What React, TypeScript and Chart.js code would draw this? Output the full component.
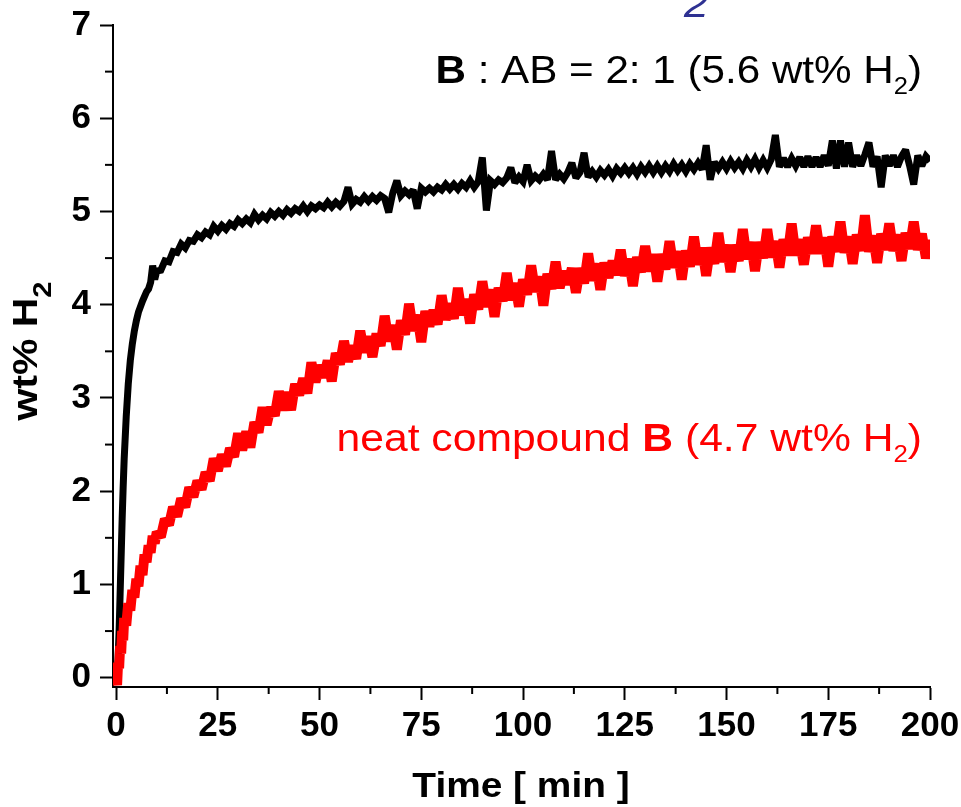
import React, { useEffect, useRef } from "react";
import { Chart, registerables } from "chart.js";

Chart.register(...registerables);

// time in minutes
const timeMin = [
  0, 0.25, 0.5, 0.75, 1, 1.25, 1.5, 1.75, 2, 2.5, 3, 3.5, 4, 4.5, 5, 5.5, 6, 6.5, 7, 7.5, 8, 8.5, 9, 9.5,
  10, 11, 12, 13, 14, 15, 16, 17, 18, 19,
  20, 21, 22, 23, 24, 25, 26, 27, 28, 29,
  30, 31, 32, 33, 34, 35, 36, 37, 38, 39,
  40, 41, 42, 43, 44, 45, 46, 47, 48, 49,
  50, 51, 52, 53, 54, 55, 56, 57, 58, 59,
  60, 61, 62, 63, 64, 65, 66, 67, 68, 69,
  70, 71, 72, 73, 74, 75, 76, 77, 78, 79,
  80, 81, 82, 83, 84, 85, 86, 87, 88, 89,
  90, 91, 92, 93, 94, 95, 96, 97, 98, 99,
  100, 101, 102, 103, 104, 105, 106, 107, 108, 109,
  110, 111, 112, 113, 114, 115, 116, 117, 118, 119,
  120, 121, 122, 123, 124, 125, 126, 127, 128, 129,
  130, 131, 132, 133, 134, 135, 136, 137, 138, 139,
  140, 141, 142, 143, 144, 145, 146, 147, 148, 149,
  150, 151, 152, 153, 154, 155, 156, 157, 158, 159,
  160, 161, 162, 163, 164, 165, 166, 167, 168, 169,
  170, 171, 172, 173, 174, 175, 176, 177, 178, 179,
  180, 181, 182, 183, 184, 185, 186, 187, 188, 189,
  190, 191, 192, 193, 194, 195, 196, 197, 198, 199, 200,
];

// B : AB = 2 : 1  (wt% H2)
const mixB_AB = [
  0, 0.05, 0.2, 0.5, 0.9, 1.3, 1.7, 2.05, 2.35, 2.8, 3.15, 3.4, 3.58, 3.72, 3.83, 3.92, 3.98, 4.04, 4.09, 4.14, 4.17, 4.24, 4.42, 4.27,
  4.36, 4.37, 4.47, 4.46, 4.57, 4.56, 4.65, 4.61, 4.69, 4.68,
  4.75, 4.72, 4.78, 4.75, 4.84, 4.79, 4.85, 4.81, 4.87, 4.84,
  4.91, 4.87, 4.92, 4.88, 4.97, 4.91, 4.96, 4.92, 4.99, 4.95,
  5.0, 4.96, 5.02, 4.98, 5.03, 5.0, 5.06, 5.0, 5.06, 5.03,
  5.07, 5.04, 5.1, 5.05, 5.1, 5.06, 5.11, 5.26, 5.08, 5.13,
  5.1, 5.16, 5.11, 5.16, 5.12, 5.17, 5.14, 4.99, 5.2, 5.33,
  5.17, 5.22, 5.18, 5.23, 5.03, 5.25, 5.21, 5.25, 5.21, 5.26,
  5.23, 5.29, 5.24, 5.29, 5.24, 5.3, 5.26, 5.33, 5.26, 5.32,
  5.58, 5.01, 5.33, 5.29, 5.34, 5.31, 5.36, 5.47, 5.31, 5.37,
  5.32, 5.5, 5.33, 5.38, 5.34, 5.4, 5.34, 5.65, 5.34, 5.4,
  5.35, 5.42, 5.52, 5.36, 5.42, 5.63, 5.37, 5.43, 5.37, 5.44,
  5.39, 5.45, 5.38, 5.46, 5.41, 5.47, 5.41, 5.47, 5.4, 5.48,
  5.42, 5.49, 5.42, 5.49, 5.42, 5.49, 5.43, 5.51, 5.44, 5.5,
  5.43, 5.51, 5.45, 5.52, 5.45, 5.71, 5.34, 5.53, 5.46, 5.53,
  5.46, 5.54, 5.47, 5.53, 5.46, 5.55, 5.48, 5.56, 5.47, 5.55,
  5.47, 5.56, 5.82, 5.48, 5.57, 5.48, 5.57, 5.49, 5.58, 5.48,
  5.59, 5.48, 5.58, 5.48, 5.6, 5.49, 5.76, 5.46, 5.76, 5.48,
  5.74, 5.48, 5.6, 5.49, 5.61, 5.74, 5.48, 5.59, 5.26, 5.6,
  5.49, 5.6, 5.48, 5.59, 5.66, 5.49, 5.29, 5.6, 5.49, 5.59, 5.54,
];

// neat compound B (wt% H2)
const neatB = [
  0, -0.08, 0.16, 0.1, 0.34, 0.26, 0.5, 0.4, 0.64, 0.56, 0.8, 0.72, 0.94, 0.86, 1.06, 0.98, 1.2, 1.1, 1.32, 1.24, 1.42, 1.34, 1.52, 1.44,
  1.56, 1.51, 1.7, 1.64, 1.83, 1.73, 1.92, 1.83, 2.04, 1.94,
  2.11, 2.02, 2.2, 2.11, 2.35, 2.22, 2.39, 2.27, 2.46, 2.37,
  2.62, 2.44, 2.64, 2.47, 2.74, 2.63, 2.9, 2.71, 2.9, 2.81,
  3.07, 2.87, 3.06, 2.87, 3.15, 3.03, 3.21, 3.05, 3.38, 3.17,
  3.35, 3.22, 3.4, 3.18, 3.48, 3.36, 3.61, 3.39, 3.56, 3.42,
  3.72, 3.49, 3.66, 3.44, 3.69, 3.56, 3.88, 3.61, 3.78, 3.52,
  3.83, 3.68, 4.01, 3.72, 3.89, 3.6, 3.93, 3.77, 3.94, 3.79,
  4.1, 3.84, 4.01, 3.85, 4.18, 3.89, 4.06, 3.8, 4.11, 3.95,
  4.25, 3.98, 4.16, 3.87, 4.18, 4.04, 4.34, 4.05, 4.23, 3.98,
  4.27, 4.11, 4.42, 4.14, 4.3, 3.99, 4.33, 4.17, 4.46, 4.18,
  4.36, 4.22, 4.39, 4.13, 4.39, 4.23, 4.55, 4.26, 4.44, 4.16,
  4.45, 4.29, 4.47, 4.32, 4.59, 4.31, 4.49, 4.2, 4.51, 4.35,
  4.63, 4.36, 4.54, 4.25, 4.54, 4.38, 4.68, 4.4, 4.57, 4.27,
  4.58, 4.41, 4.73, 4.43, 4.61, 4.31, 4.61, 4.44, 4.77, 4.46,
  4.64, 4.35, 4.64, 4.47, 4.81, 4.49, 4.67, 4.36, 4.67, 4.5,
  4.81, 4.51, 4.68, 4.4, 4.7, 4.53, 4.87, 4.53, 4.7, 4.43,
  4.72, 4.55, 4.85, 4.55, 4.72, 4.41, 4.73, 4.57, 4.89, 4.56,
  4.73, 4.44, 4.75, 4.58, 4.96, 4.57, 4.74, 4.45, 4.76, 4.59,
  4.87, 4.58, 4.75, 4.47, 4.77, 4.6, 4.89, 4.59, 4.76, 4.5, 4.7,
];

const xTicks = [0, 25, 50, 75, 100, 125, 150, 175, 200];
const xMinorTicks = [12.5, 37.5, 62.5, 87.5, 112.5, 137.5, 162.5, 187.5];
const yTicks = [0, 1, 2, 3, 4, 5, 6, 7];
const yMinorTicks = [0.5, 1.5, 2.5, 3.5, 4.5, 5.5, 6.5];

const FONT = '"Liberation Sans", Arial, sans-serif';

type Run = { text: string; size: number; bold?: boolean; italic?: boolean; dy?: number; color: string };

function drawRuns(ctx: CanvasRenderingContext2D, runs: Run[], x: number, y: number, align: string, sx: number, rot = 0) {
  ctx.save();
  const fontOf = (r: Run) => `${r.italic ? "italic " : ""}${r.bold ? "bold " : ""}${r.size}px ${FONT}`;
  let total = 0;
  for (const r of runs) {
    ctx.font = fontOf(r);
    total += ctx.measureText(r.text).width;
  }
  ctx.translate(x, y);
  if (rot) ctx.rotate(rot);
  ctx.scale(sx, 1);
  let cx = align === "right" ? -total : align === "center" ? -total / 2 : 0;
  ctx.textAlign = "left";
  ctx.textBaseline = "alphabetic";
  for (const r of runs) {
    ctx.font = fontOf(r);
    ctx.fillStyle = r.color;
    ctx.fillText(r.text, cx, r.dy || 0);
    cx += ctx.measureText(r.text).width;
  }
  ctx.restore();
}

const decorPlugin = {
  id: "decor",
  beforeDatasetsDraw(chart: any) {
    chart.ctx.save();
    chart.ctx.miterLimit = 2.2;
  },
  afterDatasetsDraw(chart: any) {
    chart.ctx.restore();
  },
  afterDraw(chart: any) {
    const ctx: CanvasRenderingContext2D = chart.ctx;
    const xs = chart.scales.x;
    const ys = chart.scales.y;
    const area = chart.chartArea;
    ctx.save();
    ctx.strokeStyle = "#000";
    ctx.lineWidth = 2;
    for (const v of yMinorTicks) {
      const py = ys.getPixelForValue(v);
      ctx.beginPath();
      ctx.moveTo(area.left - 8, py);
      ctx.lineTo(area.left, py);
      ctx.stroke();
    }
    for (const v of xMinorTicks) {
      const px = xs.getPixelForValue(v);
      ctx.beginPath();
      ctx.moveTo(px, area.bottom);
      ctx.lineTo(px, area.bottom + 7);
      ctx.stroke();
    }
    ctx.restore();

    // blue fragment at top
    drawRuns(ctx, [{ text: "2", size: 40, italic: true, color: "#2E3192" }], 684, 17, "left", 1.11);

    // annotations
    drawRuns(
      ctx,
      [
        { text: "B", size: 38, bold: true, color: "#000" },
        { text: " : AB = 2: 1 (5.6 wt% H", size: 38, color: "#000" },
        { text: "2", size: 23, dy: 11, color: "#000" },
        { text: ")", size: 38, color: "#000" },
      ],
      922,
      83,
      "right",
      1.11
    );
    drawRuns(
      ctx,
      [
        { text: "neat compound ", size: 38, color: "#FF0000" },
        { text: "B", size: 38, bold: true, color: "#FF0000" },
        { text: " (4.7 wt% H", size: 38, color: "#FF0000" },
        { text: "2", size: 23, dy: 11, color: "#FF0000" },
        { text: ")", size: 38, color: "#FF0000" },
      ],
      922,
      451,
      "right",
      1.122
    );

    // axis titles
    drawRuns(ctx, [{ text: "Time [ min ]", size: 35, bold: true, color: "#000" }], 521, 797, "center", 1.11);
    drawRuns(
      ctx,
      [
        { text: "wt% H", size: 35, bold: true, color: "#000" },
        { text: "2", size: 25, bold: true, dy: 14, color: "#000" },
      ],
      37,
      351,
      "center",
      1.17,
      -Math.PI / 2
    );
  },
};

const noPad = (s: any) => {
  s.paddingTop = 0;
  s.paddingBottom = 0;
  s.paddingLeft = 0;
  s.paddingRight = 0;
};

export default function App() {
  const ref = useRef<HTMLCanvasElement | null>(null);

  useEffect(() => {
    document.body.style.margin = "0";
    const canvas = ref.current;
    if (!canvas) return;
    const chart = new Chart(canvas, {
      type: "line",
      data: {
        datasets: [
          {
            label: "B : AB = 2: 1",
            data: timeMin.map((t, i) => ({ x: t, y: mixB_AB[i] })),
            borderColor: "#000000",
            borderWidth: 7,
            pointRadius: 0,
            tension: 0,
            borderJoinStyle: "miter",
            order: 2,
          },
          {
            label: "neat compound B",
            data: timeMin.map((t, i) => ({ x: t, y: neatB[i] })),
            borderColor: "#FF0000",
            borderWidth: 10,
            pointRadius: 0,
            tension: 0,
            borderJoinStyle: "miter",
            order: 1,
          },
        ],
      },
      options: {
        responsive: false,
        animation: false,
        devicePixelRatio: 1,
        layout: { padding: { top: 25, right: 31, left: 0, bottom: 0 } },
        plugins: {
          legend: { display: false },
          tooltip: { enabled: false },
          title: { display: false },
        },
        scales: {
          x: {
            type: "linear",
            min: -0.75,
            max: 200,
            afterFit: (s: any) => {
              s.height = 120;
              noPad(s);
            },
            afterBuildTicks: (s: any) => {
              s.ticks = xTicks.map((v) => ({ value: v }));
            },
            border: { display: true, color: "#000", width: 2 },
            grid: {
              display: true,
              drawOnChartArea: false,
              drawTicks: true,
              tickLength: 13,
              tickWidth: 2,
              tickColor: "#000",
            },
            ticks: {
              color: "#000",
              padding: 5,
              maxRotation: 0,
              autoSkip: false,
              font: { family: FONT, size: 35, weight: "bold" },
            },
          },
          y: {
            type: "linear",
            min: -0.1,
            max: 7,
            afterFit: (s: any) => {
              s.width = 113;
              noPad(s);
            },
            afterBuildTicks: (s: any) => {
              s.ticks = yTicks.map((v) => ({ value: v }));
            },
            border: { display: true, color: "#000", width: 2 },
            grid: {
              display: true,
              drawOnChartArea: false,
              drawTicks: true,
              tickLength: 13,
              tickWidth: 2,
              tickColor: "#000",
            },
            ticks: {
              color: "#000",
              padding: 9,
              autoSkip: false,
              font: { family: FONT, size: 35, weight: "bold" },
            },
          },
        },
      },
      plugins: [decorPlugin],
    } as any);
    return () => chart.destroy();
  }, []);

  return (
    <div style={{ width: 961, height: 807, background: "#fff" }}>
      <canvas ref={ref} width={961} height={807} style={{ display: "block" }} />
    </div>
  );
}
